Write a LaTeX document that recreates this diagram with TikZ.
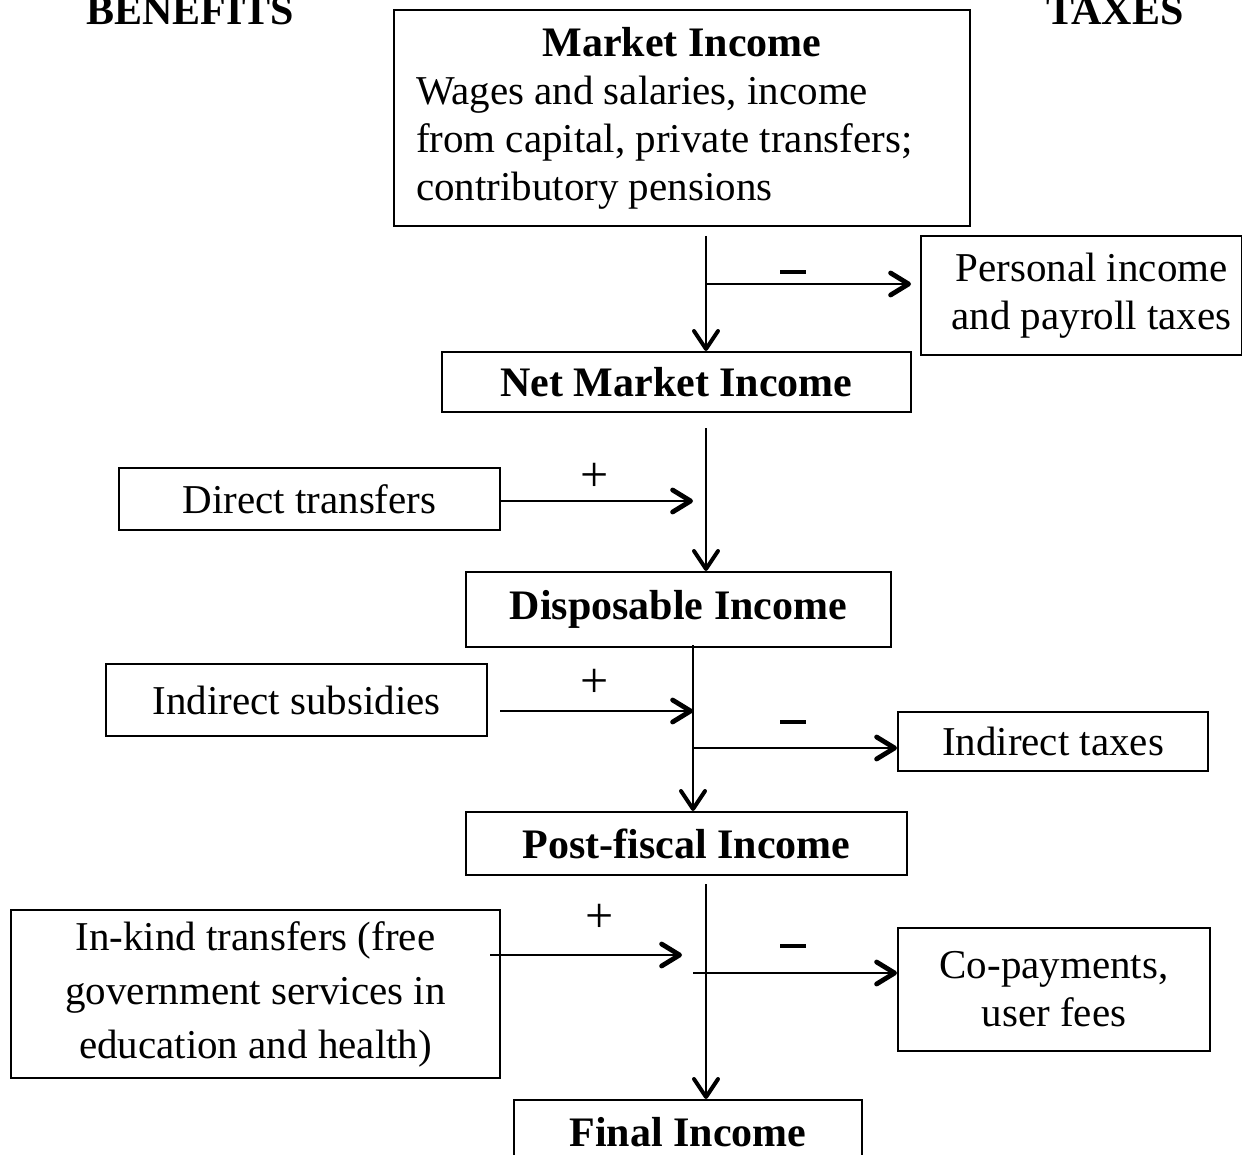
\documentclass[tikz,border=0pt]{standalone}
\usepackage{fontspec}
\setmainfont{Liberation Serif}
\usetikzlibrary{arrows.meta}
\begin{document}
\begin{tikzpicture}[x=0.5pt,y=-0.5pt,
  box/.style={draw, line width=1pt, inner sep=0pt, align=center,
    font=\fontsize{20.5}{24}\selectfont},
  ttl/.style={box, font=\fontsize{21}{25}\selectfont\bfseries},
  head/.style={font=\fontsize{21}{25}\selectfont\bfseries, anchor=base, inner sep=0pt},
  flow/.style={line width=1pt, -{Straight Barb[length=9pt,width=12pt,line width=2pt,round]}},
  branch/.style={line width=1.1pt, -{Straight Barb[length=9pt,width=11pt,line width=2.4pt,round]}},
  sign/.style={font=\fontsize{25}{28}\selectfont, inner sep=0pt},
  minus/.style={inner sep=0pt}]
\useasboundingbox (0,0) rectangle (1242,1155);

% headings
\node[head] (ben) at (190,25) {BENEFITS};
\node[head] (tax) at (1115,25) {TAXES};

% main column
\node[box, minimum width=288pt, minimum height=108pt, text width=266pt, align=flush left] (mi) at (682,118)
  {\hfill{\fontsize{21}{24}\selectfont\bfseries Market Income}\hfill\null\\
   Wages and salaries, income\\ from capital, private transfers;\\ contributory pensions};
\node[ttl, minimum width=234.5pt, minimum height=30pt] (nmi) at (676.5,382) {Net Market Income};
\node[ttl, minimum width=212.5pt, minimum height=37.5pt] (di) at (678.5,609.5) {Disposable Income};
\node[ttl, minimum width=220.5pt, minimum height=31.5pt] (pfi) at (686.5,843.5) {Post-fiscal Income};
\node[ttl, minimum width=174pt, minimum height=32pt] (fi) at (688,1132) {Final Income};

% benefits
\node[box, minimum width=190.5pt, minimum height=31pt] (dt) at (309.5,499) {Direct transfers};
\node[box, minimum width=190.5pt, minimum height=36pt] (is) at (296.5,700) {Indirect subsidies};
\node[box, minimum width=244.5pt, minimum height=84pt, font=\fontsize{20.5}{27}\selectfont] (ik) at (255.5,994)
  {In-kind transfers (free\\ government services in\\ education and health)};

% taxes
\node[box, minimum width=160.5pt, minimum height=59.5pt] (pit) at (1081.5,295.5)
  {\hspace{10pt}Personal income\\\hspace{10pt}and payroll taxes};
\node[box, minimum width=155pt, minimum height=29.5pt] (itx) at (1053,741.5) {Indirect taxes};
\node[box, minimum width=156pt, minimum height=61.5pt] (cp) at (1054,989.5) {Co-payments,\\ user fees};

% junction coordinates
\coordinate (a1) at (706,236);
\coordinate (b1) at (706,284);
\coordinate (a2) at (706,428);
\coordinate (j2) at (693,501);
\coordinate (a3) at (693,645);
\coordinate (s1) at (500,711);
\coordinate (s2) at (693,711);
\coordinate (b3) at (693,748);
\coordinate (a4) at (706,884);
\coordinate (k1) at (490,955);
\coordinate (k2) at (682,955);
\coordinate (b4) at (693,973);

% vertical flows
\draw[flow] (a1) -- (a1 |- nmi.north);
\draw[flow] (a2) -- (a2 |- di.north);
\draw[flow] (a3) -- (a3 |- pfi.north);
\draw[flow] (a4) -- (a4 |- fi.north);

% branches
\draw[branch, shorten >=4.5pt] (b1) -- (b1 -| pit.west);
\draw[branch] (dt.east |- j2) -- (j2);
\draw[branch] (s1) -- (s2);
\draw[branch] (b3) -- (b3 -| itx.west);
\draw[branch] (k1) -- (k2);
\draw[branch] (b4) -- (b4 -| cp.west);

% signs
\node[minus] (m1) at (793,272) {\rule{13pt}{1.6pt}};
\node[sign] (p2) at (595,477) {+};
\node[sign] (p3) at (595,683) {+};
\node[minus] (m3) at (793,722) {\rule{13pt}{1.6pt}};
\node[sign] (p4) at (600,918) {+};
\node[minus] (m4) at (793,946) {\rule{13pt}{1.6pt}};
\end{tikzpicture}
\end{document}
